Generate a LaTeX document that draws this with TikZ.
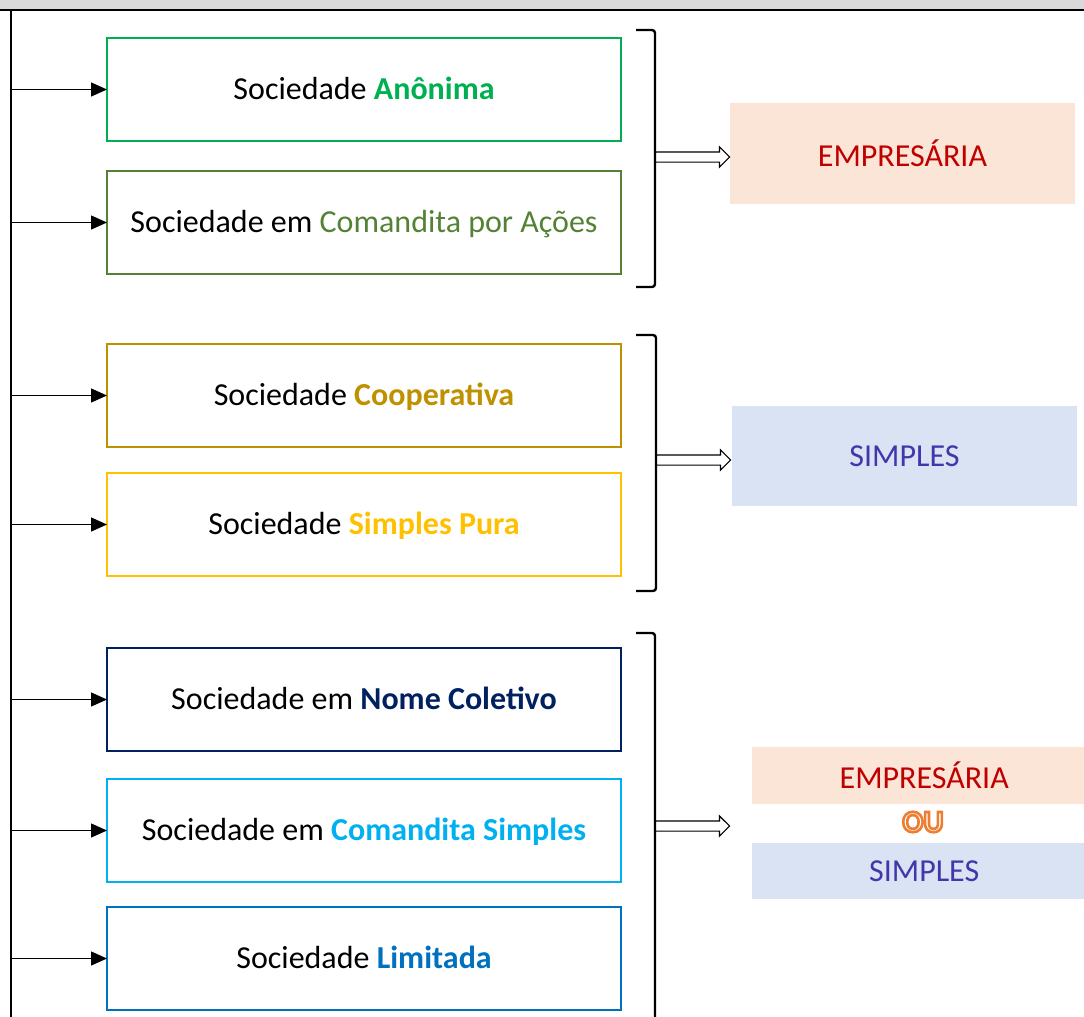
\documentclass[tikz,border=0pt]{standalone}
\usepackage{fontspec}
\setmainfont{Carlito}
\usetikzlibrary{positioning, arrows.meta, shapes.arrows}

\definecolor{anonima}{HTML}{00B050}
\definecolor{acoes}{HTML}{548235}
\definecolor{coop}{HTML}{BF9000}
\definecolor{pura}{HTML}{FFC000}
\definecolor{coletivo}{HTML}{002060}
\definecolor{comsimples}{HTML}{00B0F0}
\definecolor{limitada}{HTML}{0070C0}
\definecolor{empfill}{HTML}{FBE5D6}
\definecolor{empred}{HTML}{C00000}
\definecolor{simfill}{HTML}{DAE3F3}
\definecolor{simblue}{RGB}{66,54,170}
\definecolor{barra}{HTML}{D9D9D9}

% outlined (hollow) orange letters
\newcommand{\vazado}[1]{\special{pdf:literal direct 1 Tr 2.6 w 0.93 0.49 0.19 RG}#1\special{pdf:literal direct 0 Tr}}

\tikzset{
    soc/.style={draw, line width=2.3pt, minimum width=514pt, minimum height=103pt, inner sep=0pt, outer sep=0pt, text height=24pt, text depth=4pt, font=\fontsize{32}{36}\selectfont}, % one box per kind of sociedade
    ramo/.style={-{Triangle[length=16pt,width=14pt]}, line width=1.3pt}, % arrows from the spine
    chave/.style={line width=2.4pt, rounded corners=3pt}, % the brackets
    seta/.style={single arrow, draw, line width=1.2pt, fill=white, minimum height=74pt, inner xsep=0pt, inner ysep=4.5pt, single arrow head extend=5pt, anchor=tail}, % hollow arrow
    tipo/.style={inner sep=0pt, font=\fontsize{32}{36}\selectfont}, % EMPRESARIA / SIMPLES boxes
}

\begin{document}
\begin{tikzpicture}[x=1pt, y=-1pt]
\useasboundingbox (0,0) rectangle (1084,1017);
% top bar
\fill[barra] (0,0) rectangle (1084,10);
\draw[line width=2.5pt] (0,10) -- (1084,10);

% the seven sociedades
\node[soc, draw=anonima] (anon) at (364,89.5) {Sociedade \textcolor{anonima}{\textbf{Anônima}}};
\node[soc, draw=acoes, below=30pt of anon] (acoes) {Sociedade em \textcolor{acoes}{Comandita por Ações}};
\node[soc, draw=coop, below=70pt of acoes] (coop) {Sociedade \textcolor{coop}{\textbf{Cooperativa}}};
\node[soc, draw=pura, below=26pt of coop] (pura) {Sociedade \textcolor{pura}{\textbf{Simples Pura}}};
\node[soc, draw=coletivo, below=72pt of pura] (nome) {Sociedade em \textcolor{coletivo}{\textbf{Nome Coletivo}}};
\node[soc, draw=comsimples, below=28pt of nome] (csimp) {Sociedade em \textcolor{comsimples}{\textbf{Comandita Simples}}};
\node[soc, draw=limitada, below=25pt of csimp] (ltda) {Sociedade \textcolor{limitada}{\textbf{Limitada}}};

% spine and branches
\coordinate (topo) at (11,10);
\coordinate (fim) at (11,1017);
\draw[line width=1.6pt] (topo) -- (fim);
\foreach \b in {anon, acoes, coop, pura, nome, csimp, ltda}
    \draw[ramo] (topo |- \b.west) -- (\b.west);

% brackets
\draw[chave] (636,30) -- (655,30) -- (655,287) -- (636,287);
\draw[chave] (636,335) -- (656,335) -- (656,591) -- (636,591);
\draw[chave] (636,633) -- (655,633) -- (655,1030);

% results
\node[tipo, fill=empfill, minimum width=345pt, minimum height=101pt, text=empred] (emp1) at (902.5,153.5) {EMPRESÁRIA};
\node[tipo, fill=simfill, minimum width=345pt, minimum height=100pt, text=simblue] (sim1) at (904.5,456) {SIMPLES};
\node[tipo, fill=empfill, minimum width=344pt, minimum height=57pt, text=empred, anchor=west] (emp2) at (752,775.5) {EMPRESÁRIA};
\node[tipo, fill=simfill, minimum width=344pt, minimum height=56pt, text=simblue, anchor=west] (sim2) at (752,871) {SIMPLES};
\node[font=\fontsize{31}{33}\selectfont\bfseries, inner sep=0pt] (ou) at (923,822) {\vazado{OU}};

% hollow arrows
\node[seta] (s1) at (655,157) {};
\node[seta] (s2) at (656,460) {};
\node[seta] (s3) at (655,826) {};
\end{tikzpicture}
\end{document}
